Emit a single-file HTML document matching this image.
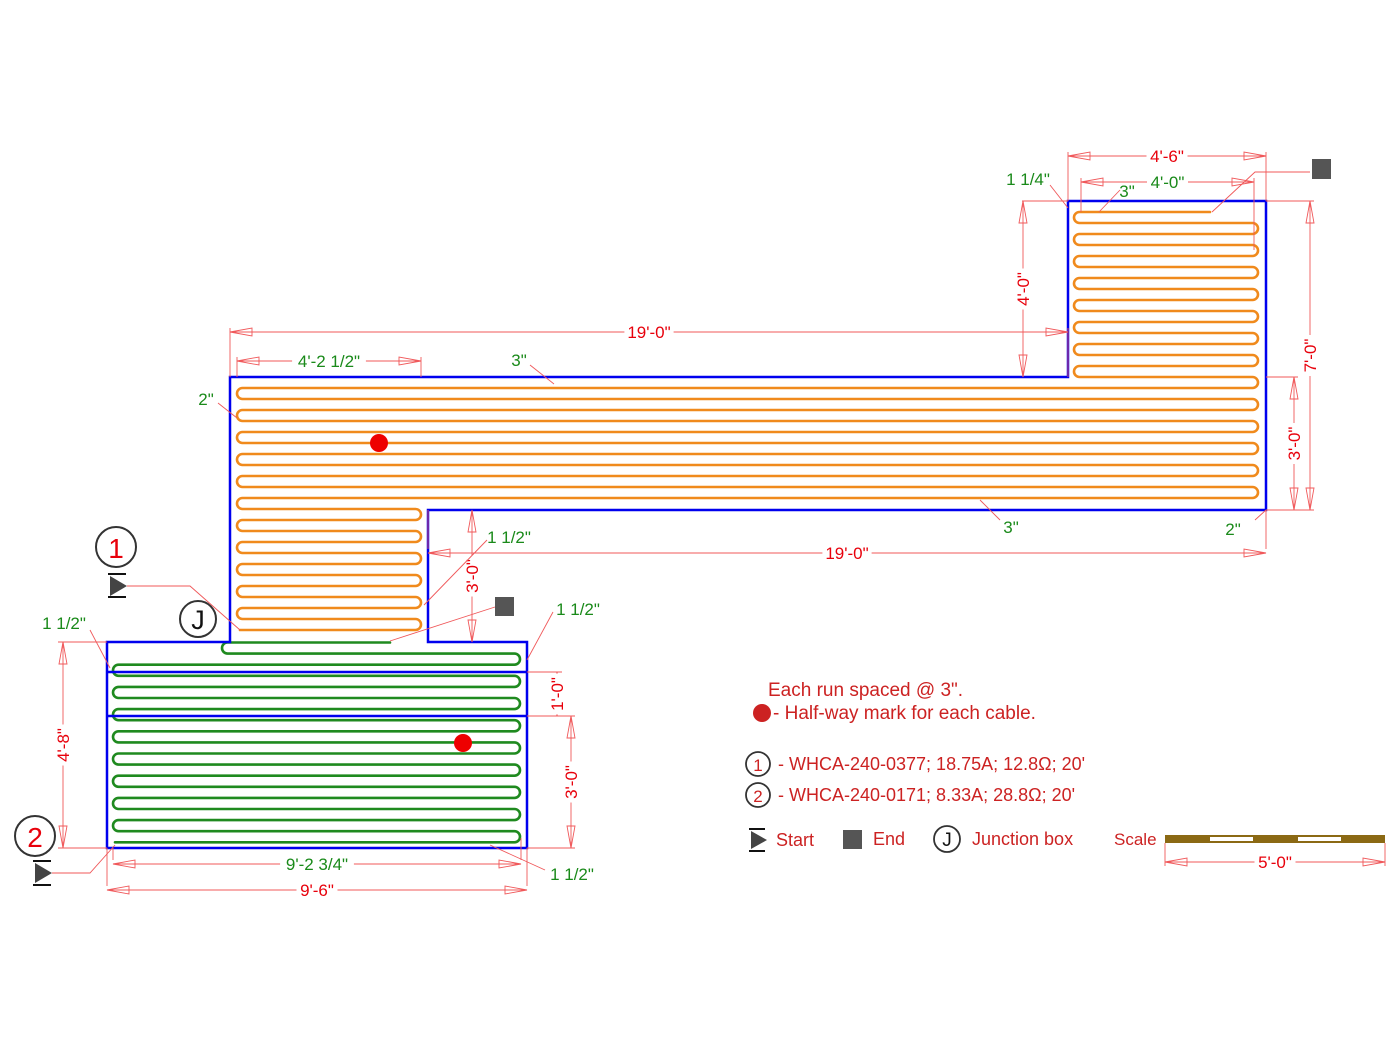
<!DOCTYPE html>
<html><head><meta charset="utf-8"><style>
html,body{margin:0;padding:0;background:#fff;}
svg{display:block;}
text{font-family:"Liberation Sans",sans-serif;font-size:17px;}
.r{fill:#e8000b;} .g{fill:#1a8a1a;} .lr{fill:#cc2222;}
.d{stroke:#f0585a;stroke-width:0.9;fill:none;}
.ah{stroke:#f0585a;stroke-width:0.9;fill:none;}
</style></head><body>
<svg id="s" width="1400" height="1049" viewBox="0 0 1400 1049" xmlns="http://www.w3.org/2000/svg">
<rect width="1400" height="1049" fill="#fff"/>
<g id="cables"></g>
<polygon points="230,377 1068,377 1068,201 1266,201 1266,510 428,510 428,642 527,642 527,848 107,848 107,642 230,642" fill="none" stroke="#0000ee" stroke-width="2.5"/>
<line x1="107" y1="672" x2="527" y2="672" stroke="#0000ee" stroke-width="2.5"/>
<line x1="107" y1="716" x2="527" y2="716" stroke="#0000ee" stroke-width="2.5"/>
<circle cx="379" cy="443" r="9" fill="#ee0000"/>
<circle cx="463" cy="743" r="9" fill="#ee0000"/>
<g id="dims"></g>
<g class="d">
<polyline points="1050,185 1068,208"/>
<polyline points="1120,190 1099,212"/>
<polyline points="1310,172 1255,172 1212,212"/>
<polyline points="530,365 554,384"/>
<polyline points="218,403 237,418"/>
<polyline points="980,500 1000,520"/>
<polyline points="1255,520 1266,510"/>
<polyline points="487,540 424,605"/>
<polyline points="495,607 390,641"/>
<polyline points="553,612 527,660"/>
<polyline points="127,586 190,586 240,630"/>
<polyline points="90,630 110,668"/>
<polyline points="52,873 90,873 115,845"/>
<polyline points="490,845 545,870"/>
<line x1="1022" y1="201" x2="1068" y2="201"/>
<line x1="1266" y1="201" x2="1314" y2="201"/>
<line x1="1266" y1="510" x2="1314" y2="510"/>
<line x1="1266" y1="377" x2="1298" y2="377"/>
<line x1="58" y1="642" x2="107" y2="642"/>
<line x1="58" y1="848" x2="107" y2="848"/>
<line x1="527" y1="672" x2="562" y2="672"/>
<line x1="527" y1="716" x2="575" y2="716"/>
<line x1="527" y1="848" x2="575" y2="848"/>
</g>
<rect x="1312" y="159" width="19" height="20" fill="#555"/>
<rect x="495" y="597" width="19" height="19" fill="#555"/>
<circle cx="198" cy="619" r="18" fill="none" stroke="#333" stroke-width="2"/>
<text x="198" y="629" text-anchor="middle" style="font-size:27px" fill="#111">J</text>
<circle cx="116" cy="547" r="20" fill="none" stroke="#333" stroke-width="2"/>
<text x="116" y="558" text-anchor="middle" style="font-size:28px" class="r">1</text>
<circle cx="35" cy="836" r="20" fill="none" stroke="#333" stroke-width="2"/>
<text x="35" y="847" text-anchor="middle" style="font-size:28px" class="r">2</text>
<g fill="#444" stroke="#111" stroke-width="2">
<line x1="108" y1="574" x2="126" y2="574"/><line x1="108" y1="597" x2="126" y2="597"/>
<polygon points="110,576 127,586 110,596" stroke="none"/>
<line x1="33" y1="861" x2="51" y2="861"/><line x1="33" y1="885" x2="51" y2="885"/>
<polygon points="35,863 52,873 35,883" stroke="none"/>
</g>
<g>
<text x="1028" y="185" text-anchor="middle" class="g">1 1/4"</text>
<text x="1127" y="197" text-anchor="middle" class="g">3"</text>
<text x="519" y="366" text-anchor="middle" class="g">3"</text>
<text x="206" y="405" text-anchor="middle" class="g">2"</text>
<text x="1011" y="533" text-anchor="middle" class="g">3"</text>
<text x="1233" y="535" text-anchor="middle" class="g">2"</text>
<text x="509" y="543" text-anchor="middle" class="g">1 1/2"</text>
<text x="578" y="615" text-anchor="middle" class="g">1 1/2"</text>
<text x="64" y="629" text-anchor="middle" class="g">1 1/2"</text>
<text x="572" y="880" text-anchor="middle" class="g">1 1/2"</text>
</g>
<text x="768" y="696" class="lr" style="font-size:19px">Each run spaced @ 3".</text>
<circle cx="762" cy="713" r="9" fill="#cc2222"/>
<text x="773" y="719" class="lr" style="font-size:19px">- Half-way mark for each cable.</text>
<circle cx="758" cy="764" r="12" fill="none" stroke="#333" stroke-width="1.8"/>
<text x="758" y="771" text-anchor="middle" class="lr" style="font-size:17px">1</text>
<text x="778" y="770" class="lr" style="font-size:18px">- WHCA-240-0377; 18.75A; 12.8Ω; 20'</text>
<circle cx="758" cy="795" r="12" fill="none" stroke="#333" stroke-width="1.8"/>
<text x="758" y="802" text-anchor="middle" class="lr" style="font-size:17px">2</text>
<text x="778" y="801" class="lr" style="font-size:18px">- WHCA-240-0171; 8.33A; 28.8Ω; 20'</text>
<g stroke="#111" stroke-width="2"><line x1="749" y1="829" x2="765" y2="829"/><line x1="749" y1="851" x2="765" y2="851"/></g>
<polygon points="751,831 767,840 751,849" fill="#444"/>
<text x="776" y="846" class="lr" style="font-size:18px">Start</text>
<rect x="843" y="830" width="19" height="19" fill="#555"/>
<text x="873" y="845" class="lr" style="font-size:18px">End</text>
<circle cx="947" cy="839" r="13" fill="none" stroke="#333" stroke-width="1.8"/>
<text x="947" y="846" text-anchor="middle" style="font-size:19px" fill="#111">J</text>
<text x="972" y="845" class="lr" style="font-size:18px">Junction box</text>
<text x="1114" y="845" class="lr" style="font-size:17px">Scale</text>
<rect x="1165" y="835" width="220" height="8" fill="#8b6914"/>
<rect x="1210" y="837" width="43" height="4" fill="#fff"/>
<rect x="1298" y="837" width="43" height="4" fill="#fff"/>
<line x1="1165" y1="843" x2="1165" y2="866" class="d"/>
<line x1="1385" y1="843" x2="1385" y2="866" class="d"/>
</svg>
<script>
var NS="http://www.w3.org/2000/svg";
function el(p,t,a,txt){var e=document.createElementNS(NS,t);for(var k in a)e.setAttribute(k,a[k]);if(txt!=null)e.textContent=txt;p.appendChild(e);return e;}
function serp(rows,color){
 var n=rows.length;
 var side0=rows[0][3];
 var x0 = side0=='L'?rows[0][2]:rows[0][1];
 var x1 = side0=='L'?rows[0][1]:rows[0][2];
 var d="M"+x0+","+rows[0][0]+" L"+x1+","+rows[0][0];
 for(var i=0;i<n-1;i++){
  var s=rows[i][3],y=rows[i][0],y2=rows[i+1][0],r=(y2-y)/2;
  var xe = s=='L'?rows[i+1][1]:rows[i+1][2];
  var xs = s=='L'?rows[i+1][2]:rows[i+1][1];
  var sweep = s=='L'?0:1;
  d+=" A"+r+","+r+" 0 0 "+sweep+" "+xe+","+y2+" L"+xs+","+y2;
 }
 el(document.getElementById("cables"),"path",{d:d,fill:"none",stroke:color,"stroke-width":2.6,"stroke-linecap":"round"});
}
var o=[],ro=5.5;
for(var k=0;k<=38;k++){
 var y=212+11*k,xl,xr;
 if(k<=15){xl=1074;xr=1258;} else if(k<=26){xl=237;xr=1258;} else {xl=237;xr=421;}
 xl+=ro; xr-=ro;
 if(k==0){xr=1210;}
 if(k==38){xl=240;}
 o.push([y,xl,xr,(k%2==0)?'L':'R']);
}
serp(o,"#f08a1c");
var g=[],rg=5.55;
for(var k=0;k<=18;k++){
 var y=642.5+11.1*k,xl=113+rg,xr=520-rg;
 if(k==0){xl=222+rg;xr=390;} if(k==1){xl=222+rg;}
 if(k==18){xl=115;}
 g.push([y,xl,xr,(k%2==0)?'L':'R']);
}
serp(g,"#1f8a1f");
var D=document.getElementById("dims");
function arrow(x,y,dx,dy){
 var L=22,W=4,bx=x-dx*L,by=y-dy*L,px=-dy*W,py=dx*W;
 el(D,"polygon",{points:x+","+y+" "+(bx+px)+","+(by+py)+" "+(bx-px)+","+(by-py),"class":"ah"});
}
function hdim(x1,x2,y,t,cls,ext1,ext2){
 el(D,"line",{x1:x1,y1:y,x2:x2,y2:y,"class":"d"});
 arrow(x1,y,-1,0);arrow(x2,y,1,0);
 if(ext1!=null){el(D,"line",{x1:x1,y1:ext1,x2:x1,y2:y-4,"class":"d"});el(D,"line",{x1:x2,y1:ext2,x2:x2,y2:y-4,"class":"d"});}
 var tx=(x1+x2)/2;
 var w=t.length*8.2;
 el(D,"rect",{x:tx-w/2,y:y-8,width:w,height:16,fill:"#fff"});
 el(D,"text",{x:tx,y:y+6,"text-anchor":"middle","class":cls},t);
}
function vdim(x,y1,y2,t,cls){
 el(D,"line",{x1:x,y1:y1,x2:x,y2:y2,"class":"d"});
 arrow(x,y1,0,-1);arrow(x,y2,0,1);
 var ty=(y1+y2)/2,w=t.length*8.2;
 el(D,"rect",{x:x-8,y:ty-w/2,width:16,height:w,fill:"#fff"});
 el(D,"text",{x:0,y:0,transform:"translate("+(x+6)+","+ty+") rotate(-90)","text-anchor":"middle","class":cls},t);
}
hdim(1068,1266,156,"4'-6\"","r",201,201);
hdim(1081,1254,182,"4'-0\"","g",212,250);
hdim(230,1068,332,"19'-0\"","r",377,377);
hdim(237,421,361,"4'-2 1/2\"","g",377,377);
hdim(428,1266,553,"19'-0\"","r",510,510);
hdim(113,521,864,"9'-2 3/4\"","g",848,838);
hdim(107,527,890,"9'-6\"","r",848,848);
hdim(1165,1385,862,"5'-0\"","r",null,null);
vdim(1023,201,377,"4'-0\"","r");
vdim(1310,201,510,"7'-0\"","r");
vdim(1294,377,510,"3'-0\"","r");
vdim(472,510,642,"3'-0\"","r");
vdim(63,642,848,"4'-8\"","r");
vdim(557,672,716,"1'-0\"","r");
vdim(571,716,848,"3'-0\"","r");
</script>
</body></html>
